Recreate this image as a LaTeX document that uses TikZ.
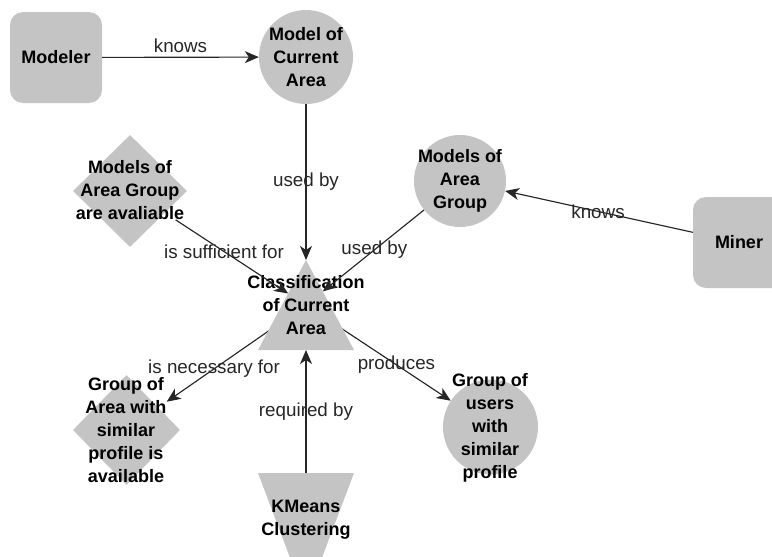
\documentclass[tikz,border=0pt]{standalone}
\usepackage{fontspec}
\setmainfont{Liberation Sans}
\usetikzlibrary{shapes.geometric,arrows.meta}
\definecolor{nodegray}{RGB}{196,196,196}
\begin{document}
\begin{tikzpicture}[x=1pt,y=-1pt,
  shapefill/.style={fill=nodegray, draw=none},
  rbox/.style={shapefill, rectangle, rounded corners=13pt, minimum width=92pt, minimum height=91pt, inner sep=0pt, font=\bfseries\fontsize{18}{23}\selectfont},
  circ/.style={shapefill, circle, inner sep=0pt},
  diam/.style={shapefill, diamond, inner sep=0pt},
  txt/.style={align=center, inner sep=0pt, font=\bfseries\fontsize{18}{23}\selectfont},
  conn/.style={draw=black!85, line width=1.15pt, -{Stealth[length=14pt,width=12pt,inset=4pt]}},
  lbl/.style={font=\fontsize{18.8}{22}\selectfont, text=black!85, inner sep=2pt},
]
\path[use as bounding box] (0,0) rectangle (772,557);
\clip (0,0) rectangle (772,557);

% nodes
\node[rbox] (modeler) at (56,57.5) {Modeler};
\node[circ, minimum size=94pt] (mca) at (306,57) {};
\node[txt] at (mca) {Model of\\Current\\Area};
\node[circ, minimum size=92pt] (mag) at (460,181) {};
\node[txt] at (mag) {Models of\\Area\\Group};
\node[rbox] (miner) at (739,242.5) {Miner};
\node[diam, minimum width=114pt, minimum height=112pt] (magaShape) at (130,191) {};
\node[txt] (maga) at (130,190) {Models of\\Area Group\\are avaliable};
\node[diam, minimum width=107pt, minimum height=110pt] (gspShape) at (126.5,430) {};
\node[txt] (gsp) at (126,430) {Group of\\Area with\\similar\\profile is\\available};
\node[circ, minimum size=95pt] (gus) at (490.5,427) {};
\node[txt] at (490,428) {Group of\\users\\with\\similar\\profile};

% triangle reference points
\coordinate (cca) at (306,305);
\coordinate (kmc) at (306,520);
\coordinate (ccaApex) at (306,260);
\coordinate (ccaL) at (288.2,293.5);
\coordinate (ccaR) at (322.8,291.4);
\coordinate (ccaB) at (306,350);

% connectors leaving the triangles (drawn beneath them)
\draw[conn] (cca) -- node[lbl,pos=0.66]{is necessary for} (gsp);
\draw[conn] (cca) -- node[lbl,pos=0.625]{produces} (gus);
\draw[conn] (kmc) -- node[lbl,pos=0.635]{required by} (ccaB);

% triangles
\fill[nodegray] (ccaApex) -- (354,350) -- (258,350) -- cycle;
\fill[nodegray] (258,473) -- (354,473) -- (306,600) -- cycle;
\node[txt] (ccat) at (cca) {Classification\\of Current\\Area};
\node[txt] (kmct) at (kmc) {KMeans\\Clustering};

% other connectors
\draw[conn] (modeler) -- node[lbl,above=2pt]{knows} (mca);
\draw[conn] (mca) -- node[lbl]{used by} (ccaApex);
\draw[conn] (maga) -- node[lbl,pos=0.43]{is sufficient for} (ccaL);
\draw[conn] (mag) -- node[lbl,pos=0.49]{used by} (ccaR);
\draw[conn] (miner) -- node[lbl,pos=0.505]{knows} (mag);
\end{tikzpicture}
\end{document}
